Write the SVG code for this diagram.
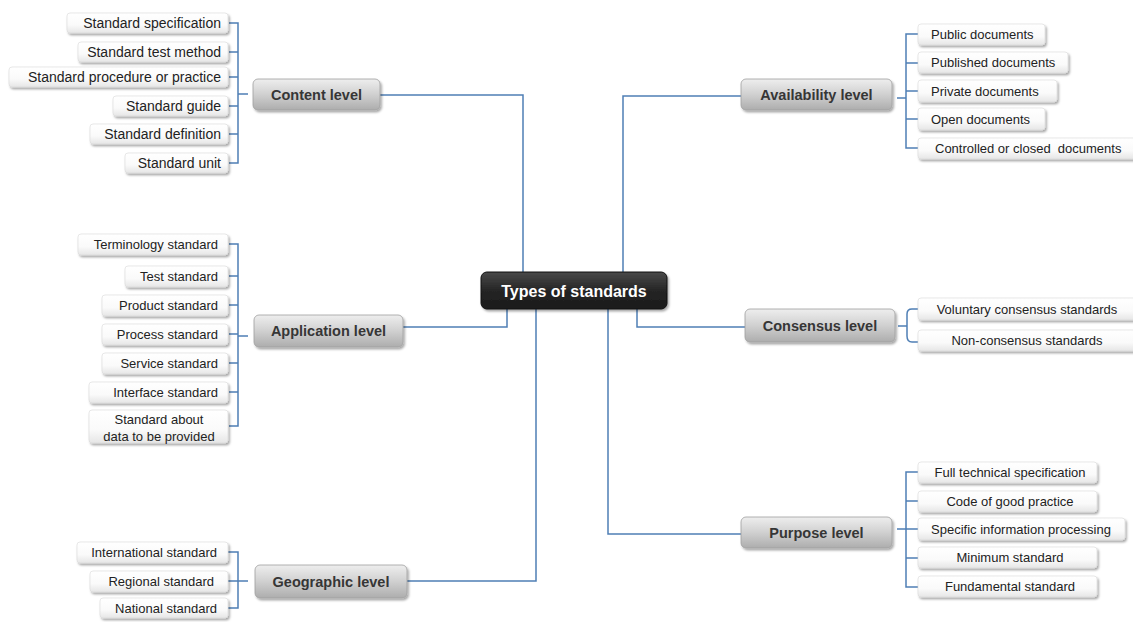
<svg xmlns="http://www.w3.org/2000/svg" width="1133" height="622" viewBox="0 0 1133 622">
<defs>
<linearGradient id="gLeaf" x1="0" y1="0" x2="0" y2="1">
<stop offset="0" stop-color="#ffffff"/><stop offset="0.6" stop-color="#fafafa"/><stop offset="1" stop-color="#e6e6e6"/>
</linearGradient>
<linearGradient id="gLevel" x1="0" y1="0" x2="0" y2="1">
<stop offset="0" stop-color="#eeeeee"/><stop offset="0.5" stop-color="#d0d0d0"/><stop offset="1" stop-color="#adadad"/>
</linearGradient>
<linearGradient id="gCenter" x1="0" y1="0" x2="0" y2="1">
<stop offset="0" stop-color="#4a4a4a"/><stop offset="0.5" stop-color="#252525"/><stop offset="1" stop-color="#1a1a1a"/>
</linearGradient>
<filter id="sh" x="-10%" y="-30%" width="125%" height="170%">
<feDropShadow dx="1.5" dy="2" stdDeviation="1.3" flood-color="#000" flood-opacity="0.35"/>
</filter>
</defs>
<style>
.leaf rect{fill:url(#gLeaf);stroke:#d8d8d8;stroke-width:0.6;filter:url(#sh)}
.leaf text{font-family:"Liberation Sans Narrow","Liberation Sans",Arial,sans-serif;font-size:13px;fill:#222}
.big text{font-size:14px}
.lvl rect{fill:url(#gLevel);stroke:#a0a0a0;stroke-width:0.8;filter:url(#sh)}
.lvl text{font-family:"Liberation Sans",Arial,sans-serif;font-size:14.5px;font-weight:bold;fill:#363636;text-anchor:middle}
.ctr rect{fill:url(#gCenter);stroke:#111;stroke-width:1;filter:url(#sh)}
.ctr text{font-family:"Liberation Sans",Arial,sans-serif;font-size:16px;font-weight:bold;fill:#ffffff;text-anchor:middle}
.conn path{fill:none;stroke:#4f7fb5;stroke-width:1.5}
.e{text-anchor:end}.m{text-anchor:middle}.s{text-anchor:start}
</style>

<g class="conn" id="connectors">
<path d="M380,95 H523 V272"/>
<path d="M403,327 H507 V309"/>
<path d="M407,581 H536 V309"/>
<path d="M741,96 H623 V272"/>
<path d="M745,327 H637 V309"/>
<path d="M741,534 H608 V309"/>
<path d="M229,23 H238 V163 H229 M229,52 H238 M229,77 H238 M229,106 H238 M229,134 H238 M238,94 H248"/>
<path d="M229,244 H238 V426 H229 M229,276 H238 M229,305 H238 M229,334 H238 M229,363 H238 M229,392 H238 M238,336 H248"/>
<path d="M228,552 H238 V608 H228 M228,581 H238 M238,581 H248"/>
<path d="M918,34 H906 V148 H918 M918,63 H906 M918,91 H906 M918,119 H906 M906,98 H897"/>
<path d="M918,309 H912 Q907,309 907,314 V336 Q907,342 912,342 H918 M907,326 H898"/>
<path d="M918,472 H906 V587 H918 M918,501 H906 M918,529 H906 M918,558 H906 M906,529 H897"/>
</g>

<g id="center" class="ctr"><rect x="481" y="272" width="186" height="37" rx="6"/><text x="574" y="297">Types of standards</text></g>

<g id="content-level" class="lvl"><rect x="253" y="79" width="127" height="31" rx="5"/><text x="316.5" y="99.5">Content level</text></g>
<g id="application-level" class="lvl"><rect x="254" y="315" width="149" height="32" rx="5"/><text x="328.5" y="336">Application level</text></g>
<g id="geographic-level" class="lvl"><rect x="255" y="565" width="152" height="33" rx="5"/><text x="331" y="586.5">Geographic level</text></g>
<g id="availability-level" class="lvl"><rect x="741" y="79" width="151" height="31" rx="5"/><text x="816.5" y="99.5">Availability level</text></g>
<g id="consensus-level" class="lvl"><rect x="745" y="309" width="150" height="33" rx="5"/><text x="820" y="330.5">Consensus level</text></g>
<g id="purpose-level" class="lvl"><rect x="741" y="517" width="151" height="31" rx="5"/><text x="816.5" y="537.5">Purpose level</text></g>

<g id="c1" class="leaf big"><rect x="67" y="13" width="161" height="20" rx="3"/><text class="e" x="221" y="28">Standard specification</text></g>
<g id="c2" class="leaf big"><rect x="78" y="42" width="150" height="20" rx="3"/><text class="e" x="221" y="57">Standard test method</text></g>
<g id="c3" class="leaf big"><rect x="9" y="67" width="219" height="20" rx="3"/><text class="e" x="221" y="82">Standard procedure or practice</text></g>
<g id="c4" class="leaf big"><rect x="113" y="96" width="115" height="20" rx="3"/><text class="e" x="221" y="111">Standard guide</text></g>
<g id="c5" class="leaf big"><rect x="90" y="124" width="138" height="20" rx="3"/><text class="e" x="221" y="139">Standard definition</text></g>
<g id="c6" class="leaf big"><rect x="125" y="153" width="103" height="20" rx="3"/><text class="e" x="221" y="168">Standard unit</text></g>

<g id="a1" class="leaf"><rect x="78" y="234" width="150" height="21" rx="3"/><text class="e" x="218" y="249">Terminology standard</text></g>
<g id="a2" class="leaf"><rect x="125" y="266" width="103" height="21" rx="3"/><text class="e" x="218" y="281">Test standard</text></g>
<g id="a3" class="leaf"><rect x="102" y="295" width="126" height="21" rx="3"/><text class="e" x="218" y="310">Product standard</text></g>
<g id="a4" class="leaf"><rect x="102" y="324" width="126" height="21" rx="3"/><text class="e" x="218" y="339">Process standard</text></g>
<g id="a5" class="leaf"><rect x="102" y="353" width="126" height="21" rx="3"/><text class="e" x="218" y="368">Service standard</text></g>
<g id="a6" class="leaf"><rect x="89" y="382" width="139" height="21" rx="3"/><text class="e" x="218" y="397">Interface standard</text></g>
<g id="a7" class="leaf"><rect x="89" y="410" width="139" height="33" rx="3"/><text class="m" x="159" y="423.5">Standard about</text><text class="m" x="159" y="441">data to be provided</text></g>

<g id="g1" class="leaf"><rect x="77" y="542" width="151" height="21" rx="3"/><text class="e" x="217" y="557">International standard</text></g>
<g id="g2" class="leaf"><rect x="90" y="571" width="138" height="21" rx="3"/><text class="e" x="214" y="586">Regional standard</text></g>
<g id="g3" class="leaf"><rect x="100" y="598" width="128" height="20" rx="3"/><text class="e" x="217" y="612.5">National standard</text></g>

<g id="v1" class="leaf"><rect x="918" y="24" width="127" height="21" rx="3"/><text class="s" x="931" y="39">Public documents</text></g>
<g id="v2" class="leaf"><rect x="918" y="52" width="150" height="21" rx="3"/><text class="s" x="931" y="67">Published documents</text></g>
<g id="v3" class="leaf"><rect x="918" y="80" width="139" height="22" rx="3"/><text class="s" x="931" y="95.5">Private documents</text></g>
<g id="v4" class="leaf"><rect x="918" y="108" width="127" height="22" rx="3"/><text class="s" x="931" y="123.5">Open documents</text></g>
<g id="v5" class="leaf"><rect x="918" y="138" width="218" height="21" rx="3"/><text class="s" x="935" y="153" xml:space="preserve">Controlled or closed  documents</text></g>

<g id="n1" class="leaf"><rect x="918" y="298" width="218" height="22" rx="3"/><text class="m" x="1027" y="313.5">Voluntary consensus standards</text></g>
<g id="n2" class="leaf"><rect x="918" y="330" width="218" height="21" rx="3"/><text class="m" x="1027" y="345">Non-consensus standards</text></g>

<g id="p1" class="leaf"><rect x="918" y="462" width="179" height="21" rx="3"/><text class="m" x="1010" y="477">Full technical specification</text></g>
<g id="p2" class="leaf"><rect x="918" y="491" width="179" height="21" rx="3"/><text class="m" x="1010" y="506">Code of good practice</text></g>
<g id="p3" class="leaf"><rect x="918" y="518" width="207" height="22" rx="3"/><text class="m" x="1021" y="533.5">Specific information processing</text></g>
<g id="p4" class="leaf"><rect x="918" y="547" width="179" height="21" rx="3"/><text class="m" x="1010" y="562">Minimum standard</text></g>
<g id="p5" class="leaf"><rect x="918" y="576" width="179" height="21" rx="3"/><text class="m" x="1010" y="591">Fundamental standard</text></g>
</svg>
